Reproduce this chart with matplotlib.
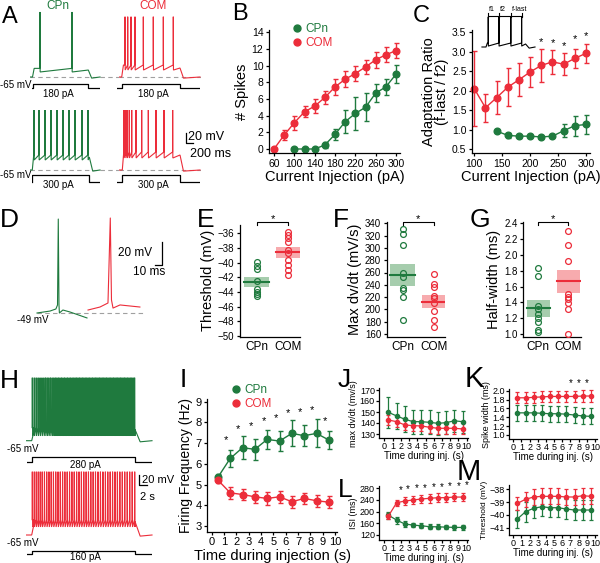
import matplotlib
matplotlib.use('Agg')
from matplotlib import pyplot as plt
from matplotlib.lines import Line2D
from matplotlib.ticker import FormatStrFormatter

plt.rcParams['font.family'] = ['Liberation Sans', 'DejaVu Sans']
plt.rcParams['axes.linewidth'] = 0.9
plt.rcParams['xtick.major.width'] = 0.9
plt.rcParams['ytick.major.width'] = 0.9
plt.rcParams['xtick.major.size'] = 2.5
plt.rcParams['ytick.major.size'] = 2.5

GREEN = '#1f7a3e'
RED = '#ec2d3a'
GREEN_FILL = '#a6cdad'
RED_FILL = '#f7abae'
DASH = '#a0a0a0'

# ---------------- data ----------------
# A: spike times (ms after step onset, 1 s step)
a_cpn180_spikes = [134, 708]
a_com180_spikes = [57, 103, 160, 228, 371, 542, 714, 885]
a_cpn300_spikes = [30, 117, 223, 328, 433, 539, 644, 749, 872, 977]
a_com300_spikes = [29, 59, 87, 121, 163, 237, 336, 451, 584, 723, 873]

# B: number of spikes vs current injection
b_com_current = [60, 80, 100, 120, 140, 160, 180, 200, 220, 240, 260, 280, 300]
b_com_mean = [0, 1.67, 3.15, 4.46, 5.14, 6.18, 7.45, 8.37, 9.05, 9.84, 10.7, 11.3, 11.8]
b_com_sem = [0, 0.6, 0.84, 0.68, 0.8, 0.8, 0.92, 0.98, 0.88, 0.88, 0.96, 0.9, 0.88]
b_cpn_current = [100, 120, 140, 160, 180, 200, 220, 240, 260, 280, 300]
b_cpn_mean = [0, 0, 0, 0.48, 1.75, 3.27, 4.27, 5.0, 6.7, 7.45, 8.97]
b_cpn_sem = [0, 0, 0, 0.4, 0.7, 1.4, 2.0, 1.7, 1.1, 1.0, 1.1]

# C: adaptation ratio
c_com_current = [100, 120, 140, 160, 180, 200, 220, 240, 260, 280, 300]
c_com_mean = [2.05, 1.56, 1.82, 2.09, 2.28, 2.48, 2.65, 2.74, 2.68, 2.83, 2.96]
c_com_sem = [0.97, 0.36, 0.43, 0.49, 0.43, 0.39, 0.43, 0.3, 0.28, 0.24, 0.25]
c_cpn_current = [140, 160, 180, 200, 220, 240, 260, 280, 300]
c_cpn_mean = [0.96, 0.85, 0.83, 0.83, 0.81, 0.83, 0.97, 1.1, 1.13]
c_cpn_sem = [0.02, 0.06, 0.04, 0.02, 0.03, 0.03, 0.17, 0.26, 0.24]
c_star_current = [220, 240, 260, 280, 300]
c_star_y = [3.25, 3.22, 3.15, 3.33, 3.4]
c_inset_spikes = [25, 144, 276, 396]

# D: single spikes (ms, mV)
d_cpn_t = [0, 18.6, 27, 29.3, 30.4, 31.4, 32, 37, 47, 71.4]
d_cpn_v = [-49, -47.3, -45.5, -42, 32.7, -42, -49, -46.4, -48.1, -53.3]
d_com_t = [72.9, 90, 101.4, 104.7, 106.4, 108.6, 118.6, 147]
d_com_v = [-46.4, -43.8, -40.3, 33.6, -37.7, -44.7, -42, -43.8]

# E, F, G: individual cells, mean and sem
e_cpn = [-39.9, -40.4, -40.9, -42.5, -43.6, -44.0, -44.3, -44.6]
e_com = [-35.8, -36.2, -36.7, -37.2, -38.3, -38.7, -39.6, -40.3, -41.0, -41.7]
e_mean = [-42.68, -38.58]
e_sem = [0.68, 0.75]
f_cpn = [330, 322, 305, 260, 252, 235, 232, 220, 183]
f_com = [257, 242, 237, 222, 218, 211, 198, 182, 171]
f_mean = [256, 212.6]
f_sem = [17.4, 10.8]
g_cpn = [1.84, 1.73, 1.35, 1.31, 1.25, 1.20, 1.15, 1.05, 1.03]
g_com = [2.30, 2.13, 1.92, 1.51, 1.47, 1.44, 1.39, 1.32, 1.00]
g_mean = [1.325, 1.665]
g_sem = [0.105, 0.145]

# I-M: time course during 10 s injection
time_bins = [0.5, 1.5, 2.5, 3.5, 4.5, 5.5, 6.5, 7.5, 8.5, 9.5]
i_cpn_mean = [5.35, 6.26, 6.78, 6.70, 7.18, 7.10, 7.47, 7.36, 7.47, 7.15]
i_cpn_sem = [0.15, 0.43, 0.56, 0.5, 0.47, 0.5, 0.63, 0.5, 0.68, 0.43]
i_com_mean = [5.22, 4.6, 4.52, 4.41, 4.33, 4.41, 4.17, 4.33, 4.22, 4.15]
i_com_sem = [0.15, 0.28, 0.28, 0.3, 0.32, 0.3, 0.3, 0.27, 0.3, 0.3]
i_star_x = [1.13, 2.16, 3.15, 4.23, 5.2, 6.2, 7.16, 8.16, 9.19]
i_star_y = [7.15, 7.68, 7.82, 8.07, 8.2, 8.44, 8.52, 8.6, 8.07]

j_cpn_mean = [149.7, 146.4, 143.4, 141.2, 141.2, 140.6, 139.7, 140.3, 142, 141.2]
j_cpn_sem = [14, 12, 11.7, 11, 11, 11, 10.6, 10.6, 10, 10]
j_com_mean = [142.7, 141.2, 138.2, 137.6, 137.3, 136.1, 135.2, 135.2, 135.2, 134.6]
j_com_sem = [4.5, 4.8, 5, 5, 5, 5, 5, 5, 5, 5]

k_cpn_mean = [1.50, 1.50, 1.50, 1.49, 1.48, 1.48, 1.47, 1.45, 1.43, 1.42]
k_cpn_sem = [0.18, 0.18, 0.18, 0.18, 0.18, 0.18, 0.18, 0.18, 0.18, 0.18]
k_com_mean = [1.84, 1.84, 1.85, 1.86, 1.87, 1.87, 1.87, 1.87, 1.88, 1.88]
k_com_sem = [0.125, 0.125, 0.125, 0.125, 0.125, 0.125, 0.125, 0.125, 0.125, 0.125]
k_star_x = [7.03, 7.96, 8.98]
k_star_y = [2.17, 2.17, 2.17]

l_cpn_mean = [188, 171, 157.6, 154, 151.6, 148.5, 148, 147, 146, 146]
l_cpn_sem = [12, 12, 10, 8, 8, 8, 8, 8, 8, 8]
l_com_mean = [185, 230.6, 236.5, 240, 243.3, 245.7, 247.8, 248, 250, 250]
l_com_sem = [10, 10, 15, 15, 15, 15, 15, 15, 15, 15]
l_star_x = [1.99, 2.9, 3.93, 4.94, 5.95, 6.97, 7.97, 8.98, 10.0]
l_star_y = [274, 276.6, 280, 282, 283.4, 285.5, 288, 289, 291.3]

m_cpn_mean = [-40.32, -39.75, -39.48, -39.36, -39.44, -39.44, -39.54, -39.62, -39.62, -39.62]
m_cpn_sem = [0.74, 0.78, 0.8, 0.74, 0.75, 0.75, 0.75, 0.75, 0.75, 0.75]
m_com_mean = [-39.1, -38.78, -38.6, -38.55, -38.55, -38.55, -38.6, -38.6, -38.5, -38.55]
m_com_sem = [0.52, 0.6, 0.62, 0.62, 0.62, 0.62, 0.62, 0.62, 0.62, 0.62]

# ---------------- layout helpers (pixel based) ----------------
W, H = 600.0, 563.0
fig = plt.figure(figsize=(6.0, 5.63), dpi=100)


def px_axes(l, t, r, b):
    return fig.add_axes([l / W, 1 - b / H, (r - l) / W, (b - t) / H])


def lin(p, ref):
    (p0, v0), (p1, v1) = ref
    return v0 + (p - p0) * (v1 - v0) / (p1 - p0)


def plot_axes(l, t, r, b, xref, yref, fs=7):
    ax = px_axes(l, t, r, b)
    ax.set_xlim(lin(l, xref), lin(r, xref))
    ax.set_ylim(lin(b, yref), lin(t, yref))
    ax.spines['top'].set_visible(False)
    ax.spines['right'].set_visible(False)
    ax.patch.set_visible(False)
    ax.tick_params(labelsize=fs, pad=1.5)
    return ax


def bare_axes(l, t, r, b, xref, yref):
    ax = plot_axes(l, t, r, b, xref, yref)
    ax.axis('off')
    return ax


def spike_trace(spikes, rest, thr, peak, ahp, hold, t_off, t_start, t_end, rise, decay):
    t = [t_start, 0.0, rise]
    v = [rest, rest, thr]
    w = 0.002 * t_off
    for s in spikes:
        t += [s - w, s, s + 1.5 * w]
        v += [thr, peak, ahp]
    t += [t_off, t_off + decay, t_end]
    v += [hold, rest - 1.5, rest]
    return t, v


def spikes_from_rate(rates, first):
    times = []
    t = first
    while t < 1000.0 * len(rates):
        times.append(t)
        t += 1000.0 / rates[int(t // 1000)]
    return times


def trace(l, r, t, b, tmap, base_px, spikes, pars, color, dashed=True):
    ax = bare_axes(l, t, r, b, tmap, ((base_px, -65), (base_px - 15, -45)))
    tt, vv = spike_trace(spikes, -65, *pars)
    ax.plot(tt, vv, color=color, lw=0.8, solid_joinstyle='miter')
    if dashed:
        ax.axhline(-65, color=DASH, lw=0.8, ls=(0, (4, 3)), zorder=0)
    return ax


def step(l, r, y_low, y_high, tmap, t_off, amp):
    ax = bare_axes(l, y_high - 2, r, y_low + 2, tmap, ((y_low, 0), (y_high, amp)))
    x0, x1 = ax.get_xlim()
    ax.plot([x0, 0, 0, t_off, t_off, x1], [0, 0, amp, amp, 0, 0], color='black', lw=0.9)
    return ax


def err_line(ax, x, m, s, color, ms, lw, cap):
    ax.errorbar(x, m, yerr=s, color=color, marker='o', ms=ms, lw=lw, elinewidth=lw,
                capsize=cap, capthick=lw, mec=color, mfc=color, clip_on=False)


def stars(ax, xs, ys, fs):
    for x, y in zip(xs, ys):
        ax.text(x, y, '*', ha='center', va='center', fontsize=fs, clip_on=False)


ov = fig.add_axes([0, 0, 1, 1])
ov.set_xlim(0, W)
ov.set_ylim(H, 0)
ov.axis('off')

# ---------------- A ----------------
tm = ((32.5, 0), (88.3, 1000))
trace(30, 119, 5, 80, tm, 77, a_cpn180_spikes, (-53.5, 21.7, -58.3, -55.7, 1000, -50, 1210, 30, 60), GREEN)
step(31.7, 100, 88.3, 84, tm, 1000, 180)
tm = ((121.7, 0), (180, 1000))
trace(119, 201, 5, 80, tm, 77, a_com180_spikes, (-49, 15.4, -55.7, -53, 1000, -80, 1343, 30, 60), RED)
step(116.7, 200, 88.3, 84, tm, 1000, 180)
tm = ((32.3, 0), (89.3, 1000))
trace(30, 119, 100, 173, tm, 170, a_cpn300_spikes, (-45, 15, -51.7, -47.7, 1000, -50, 1188, 25, 60), GREEN)
step(31.7, 100, 181.7, 175, tm, 1000, 300)
tm = ((122.3, 0), (180, 1000))
trace(119, 201, 100, 173, tm, 170, a_com300_spikes, (-41, 15, -49, -45, 1000, -90, 1347, 25, 60), RED)
step(116.7, 200, 181.7, 175, tm, 1000, 300)

ov.text(58, 6, 'CPn', color=GREEN, fontsize=8.5, ha='center', va='center')
ov.text(153, 6, 'COM', color=RED, fontsize=8.5, ha='center', va='center')
for y in (85, 175):
    ov.text(32, y, '-65 mV', fontsize=7, ha='right', va='center')
for x, y, s in ((58, 94, '180 pA'), (153, 94, '180 pA'), (58, 185, '300 pA'), (153, 185, '300 pA')):
    ov.text(x, y, s, fontsize=7, ha='center', va='center')
ov.plot([186, 186, 193], [132.7, 142.7, 142.7], color='black', lw=0.9)
ov.text(188.5, 137, '20 mV', fontsize=9, ha='left', va='center')
ov.text(190, 154, '200 ms', fontsize=9, ha='left', va='center')

# ---------------- B ----------------
ax = plot_axes(269, 30, 400, 153, ((274, 60), (396, 300)), ((149, 0), (32.3, 14)), fs=7.5)
err_line(ax, b_cpn_current, b_cpn_mean, b_cpn_sem, GREEN, 4.8, 1.0, 1.8)
err_line(ax, b_com_current, b_com_mean, b_com_sem, RED, 4.8, 1.0, 1.8)
ax.set_xticks(range(60, 301, 40))
ax.set_yticks(range(0, 15, 2))
ax.set_ylabel('# Spikes', fontsize=10.5, labelpad=2)
ax.set_xlabel('Current Injection (pA)', fontsize=10.5, labelpad=1)
hs = [Line2D([], [], ls='none', marker='o', ms=5, color=GREEN),
      Line2D([], [], ls='none', marker='o', ms=5, color=RED)]
leg = ax.legend(hs, ['CPn', 'COM'], loc='upper left', bbox_to_anchor=(286 / W, 1 - 17 / H),
                bbox_transform=fig.transFigure, frameon=False, fontsize=8.5,
                handlelength=0.8, handletextpad=0.3, borderpad=0, labelspacing=0.15)
for txt, c in zip(leg.get_texts(), (GREEN, RED)):
    txt.set_color(c)

# ---------------- C ----------------
ax = plot_axes(472, 30, 590, 153, ((474.3, 100), (586, 300)), ((149, 0.5), (32.3, 3.5)), fs=7.5)
err_line(ax, c_cpn_current, c_cpn_mean, c_cpn_sem, GREEN, 4.8, 1.0, 1.8)
err_line(ax, c_com_current, c_com_mean, c_com_sem, RED, 4.8, 1.0, 1.8)
stars(ax, c_star_current, c_star_y, 8)
ax.set_xticks(range(100, 301, 50))
ax.set_yticks([0.5, 1.0, 1.5, 2.0, 2.5, 3.0, 3.5])
ax.yaxis.set_major_formatter(FormatStrFormatter('%.1f'))
ax.set_ylabel('Adaptation Ratio\n(f-last / f2)', fontsize=10.5, labelpad=2, linespacing=0.95)
ax.set_xlabel('Current Injection (pA)', fontsize=10.5, labelpad=1)

# inset trace
tm = ((486, 0), (536, 556))
ins = bare_axes(478, 8, 540, 52, tm, ((47, -65), (32, -45)))
tt, vv = spike_trace(c_inset_spikes, -65, -59.7, -25, -63.7, -61, 440, -45, 545, 15, 40)
ins.plot(tt, vv, color='black', lw=0.8)
yb, yt = -23.7, -19.3
ins.plot([c_inset_spikes[0], c_inset_spikes[-1]], [yb, yb], color='black', lw=0.8, clip_on=False)
for s in c_inset_spikes:
    ins.plot([s, s], [-25, yt], color='black', lw=0.8, clip_on=False)
for s, lab in zip(c_inset_spikes[:3], ('f1', 'f2', 'f-last')):
    ins.text(s + 10, -15.5, lab, fontsize=5, ha='left', va='center')

# ---------------- D ----------------
ax = bare_axes(30, 212, 150, 325, ((37, 0), (44, 10)), ((313, -49), (290, -29)))
ax.plot(d_cpn_t, d_cpn_v, color=GREEN, lw=0.8)
ax.plot(d_com_t, d_com_v, color=RED, lw=0.8)
ax.plot([0, 151], [-49, -49], color=DASH, lw=0.8, ls=(0, (4, 3)), zorder=0)
ov.text(33, 320, '-49 mV', fontsize=7, ha='center', va='center')
ov.plot([155, 161.7, 161.7], [265, 265, 241.7], color='black', lw=0.9)
ov.text(152, 253.3, '20 mV', fontsize=8.5, ha='right', va='center')
ov.text(149, 271.7, '10 ms', fontsize=8.5, ha='center', va='center')


# ---------------- E, F, G ----------------
def scatter_panel(ax, cpn, com, means, sems):
    for i, (vals, col, fill) in enumerate(((cpn, GREEN, GREEN_FILL), (com, RED, RED_FILL))):
        ax.bar(i, 2 * sems[i], bottom=means[i] - sems[i], width=0.78, color=fill, lw=0, zorder=1)
        ax.plot([i - 0.39, i + 0.39], [means[i], means[i]], color=col, lw=1.5, zorder=2)
        ax.plot([i] * len(vals), vals, 'o', mfc='none', mec=col, ms=4.2, mew=0.9, zorder=3)
    ax.set_xticks([0, 1])
    ax.set_xticklabels(['CPn', 'COM'], fontsize=8.5)
    ax.tick_params(axis='x', length=0, pad=3)


ax = plot_axes(240, 225, 300, 336.7, ((256.7, 0), (288.3, 1)), ((233.3, -36), (336, -50)), fs=7)
scatter_panel(ax, e_cpn, e_com, e_mean, e_sem)
ax.set_yticks(range(-50, -35, 2))
ax.set_ylabel('Threshold (mV)', fontsize=10.5, labelpad=2)

ax = plot_axes(386.7, 222, 445, 336.7, ((402.7, 0), (434, 1)), ((223.3, 340), (334, 160)), fs=7)
scatter_panel(ax, f_cpn, f_com, f_mean, f_sem)
ax.set_yticks(range(160, 341, 20))
ax.set_ylabel('Max dv/dt (mV/s)', fontsize=10.5, labelpad=2)

ax = plot_axes(523.3, 222, 581, 336.7, ((538.3, 0), (568.3, 1)), ((223.3, 2.4), (334, 1.0)), fs=7)
scatter_panel(ax, g_cpn, g_com, g_mean, g_sem)
ax.set_yticks([1.0, 1.2, 1.4, 1.6, 1.8, 2.0, 2.2, 2.4])
ax.yaxis.set_major_formatter(FormatStrFormatter('%.1f'))
ax.set_ylabel('Half-width (ms)', fontsize=10.5, labelpad=2)

for x0, x1 in ((256.7, 288.3), (402.7, 434), (538.3, 568.3)):
    ov.plot([x0, x0, x1, x1], [225, 222.3, 222.3, 225], color='black', lw=0.8)
    ov.text((x0 + x1) / 2, 219, '*', fontsize=8, ha='center', va='center')

# ---------------- H ----------------
tm = ((31.7, 0), (135, 10000))
trace(26, 153, 372, 444, tm, 440.7, spikes_from_rate(i_cpn_mean, 60),
      (-48, 19, -58.7, -50, 10000, -500, 11646, 300, 500), GREEN, dashed=False)
step(26.7, 151.7, 462.3, 457.3, tm, 10000, 280)
trace(26, 153, 466, 538, tm, 535, spikes_from_rate(i_com_mean, 60),
      (-45, 19.4, -54.3, -47, 10000, -500, 11646, 300, 500), RED, dashed=False)
step(26.7, 151.7, 554, 551, tm, 10000, 160)
ov.text(7, 449.3, '-65 mV', fontsize=7, ha='left', va='center')
ov.text(7, 542.7, '-65 mV', fontsize=7, ha='left', va='center')
ov.text(85, 465, '280 pA', fontsize=7, ha='center', va='center')
ov.text(85, 557.3, '160 pA', fontsize=7, ha='center', va='center')
ov.plot([139.3, 139.3, 146.7], [475, 485, 485], color='black', lw=0.9)
ov.text(141.5, 480, '20 mV', fontsize=8, ha='left', va='center')
ov.text(140, 496.7, '2 s', fontsize=8, ha='left', va='center')

# ---------------- I ----------------
ax = plot_axes(207.3, 399, 337, 531.7, ((211.7, 0), (335, 10)), ((401.7, 9), (526, 3)), fs=8)
err_line(ax, time_bins, i_cpn_mean, i_cpn_sem, GREEN, 4.8, 1.0, 1.8)
err_line(ax, time_bins, i_com_mean, i_com_sem, RED, 4.8, 1.0, 1.8)
stars(ax, i_star_x, i_star_y, 8)
ax.set_xticks(range(0, 11))
ax.set_yticks(range(3, 10))
ax.set_ylabel('Firing Frequency (Hz)', fontsize=10, labelpad=2)
ax.set_xlabel('Time during injection (s)', fontsize=10.5, labelpad=1)
leg = ax.legend(hs, ['CPn', 'COM'], loc='upper left', bbox_to_anchor=(225 / W, 1 - 378 / H),
                bbox_transform=fig.transFigure, frameon=False, fontsize=8.5,
                handlelength=0.8, handletextpad=0.3, borderpad=0, labelspacing=0.15)
for txt, c in zip(leg.get_texts(), (GREEN, RED)):
    txt.set_color(c)


# ---------------- J, K, L, M ----------------
def small_panel(rect, xref, yref, cpn, cpn_s, com, com_s, ylabel, yticks, fmt=None, yfs=6.5):
    ax = plot_axes(*rect, xref, yref, fs=6.5)
    err_line(ax, time_bins, cpn, cpn_s, GREEN, 3.0, 0.9, 1.2)
    err_line(ax, time_bins, com, com_s, RED, 3.0, 0.9, 1.2)
    ax.set_xticks(range(0, 11))
    ax.set_yticks(yticks)
    if fmt:
        ax.yaxis.set_major_formatter(FormatStrFormatter(fmt))
    ax.tick_params(length=2, pad=1)
    ax.set_ylabel(ylabel, fontsize=yfs, labelpad=1)
    ax.set_xlabel('Time during inj. (s)', fontsize=7, labelpad=0)
    return ax


jx = ((384.3, 0), (466.7, 10))
kx = ((513.3, 0), (595, 10))
small_panel((379, 388, 468, 438.3), jx, ((390, 170), (434, 130)), j_cpn_mean, j_cpn_sem,
            j_com_mean, j_com_sem, 'max dv/dt (mv/s)', range(130, 171, 10))
ax = small_panel((509.3, 389, 597, 439.3), kx, ((390.7, 2.0), (435, 1.0)), k_cpn_mean, k_cpn_sem,
                 k_com_mean, k_com_sem, 'Spike width (ms)', [1.0, 1.2, 1.4, 1.6, 1.8, 2.0], '%.1f')
stars(ax, k_star_x, k_star_y, 7)
ax = small_panel((379, 486, 468, 540), jx, ((488.3, 280), (535, 120)), l_cpn_mean, l_cpn_sem,
                 l_com_mean, l_com_sem, 'ISI (ms)', range(120, 281, 40))
stars(ax, l_star_x, l_star_y, 7)
small_panel((509.3, 485, 597, 535), kx, ((489.3, -38), (527.7, -41)), m_cpn_mean, m_cpn_sem,
            m_com_mean, m_com_sem, 'Threshold (mV)', [-41, -40, -39, -38], yfs=6.0)

# ---------------- panel letters ----------------
for x, y, s, fs in ((2, 23, 'A', 17), (232, 20, 'B', 17), (413, 22, 'C', 17),
                    (0, 227, 'D', 19), (197, 227, 'E', 19), (333, 227, 'F', 19), (470, 227, 'G', 19),
                    (0, 388, 'H', 19), (180, 387, 'I', 19), (338, 387, 'J', 19), (465, 387, 'K', 21),
                    (338, 497, 'L', 19), (457, 480, 'M', 21)):
    ov.text(x, y, s, fontsize=fs, ha='left', va='baseline')

fig.savefig('out.png', dpi=100)
